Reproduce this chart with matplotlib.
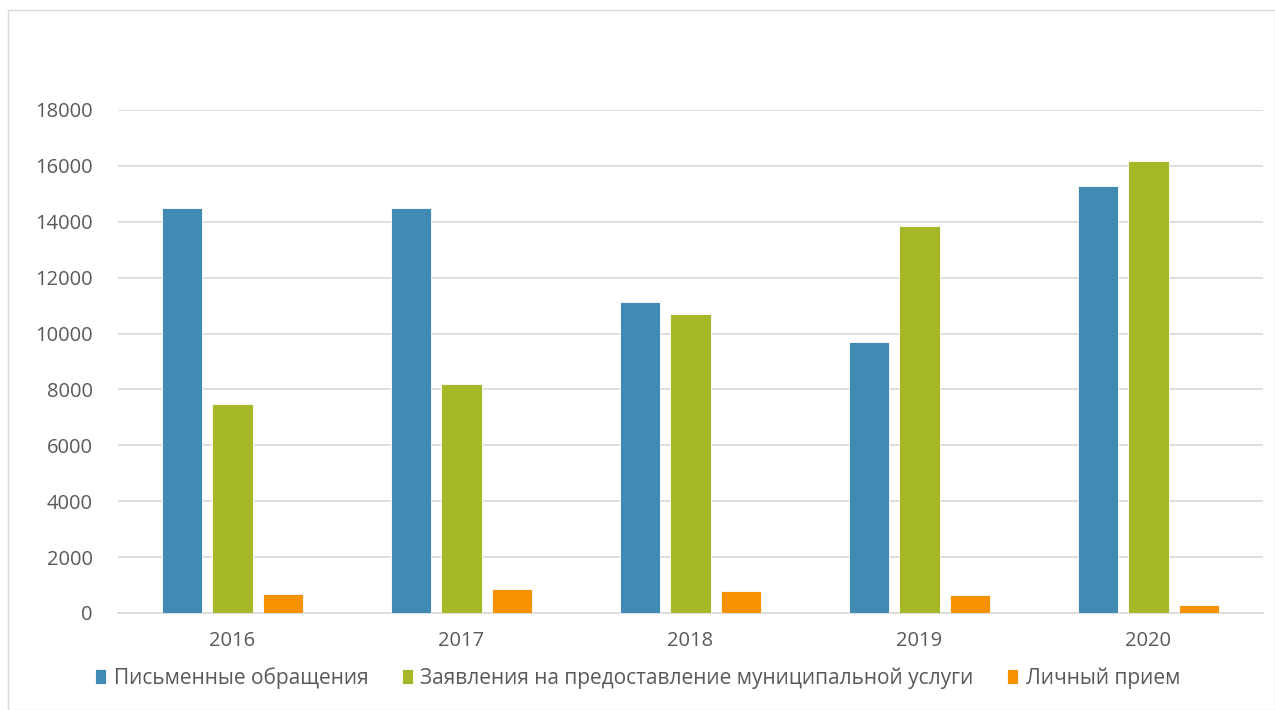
import matplotlib
matplotlib.use("Agg")
import matplotlib.pyplot as plt
import numpy as np
from matplotlib.patches import Rectangle

years = ["2016", "2017", "2018", "2019", "2020"]
pismennye = [14500, 14500, 11120, 9710, 15280]
zayavleniya = [7480, 8200, 10690, 13860, 16190]
lichny = [670, 870, 770, 650, 280]

series_names = ["Письменные обращения",
                "Заявления на предоставление муниципальной услуги",
                "Личный прием"]
colors = ["#418AB3", "#A6B727", "#F69200"]

plt.rcParams['font.family'] = ['Open Sans', 'DejaVu Sans']

fig = plt.figure(figsize=(12.75, 7.1), dpi=100)
ax = fig.add_axes([118/1275, 1 - 613/710, (1263-118)/1275, (613-110)/710])

x = np.arange(len(years))
w = 0.175
step = 0.222
for i, (vals, c, name) in enumerate(zip([pismennye, zayavleniya, lichny], colors, series_names)):
    ax.bar(x + (i - 1) * step, vals, width=w, color=c, label=name,
           edgecolor="white", linewidth=0.6, zorder=3)

ax.set_xlim(-0.5, len(years) - 0.5)
ax.set_ylim(0, 18000)
ax.set_yticks(range(0, 18001, 2000))
ax.set_xticks(x)
ax.set_xticklabels(years)
ax.yaxis.grid(True, color="#D9D9D9", linewidth=1.2, zorder=0)
for s in ["top", "right", "left"]:
    ax.spines[s].set_visible(False)
ax.spines["bottom"].set_color("#D9D9D9")
ax.spines["bottom"].set_linewidth(1.2)
ax.tick_params(axis="both", length=0, colors="#595959", labelsize=14.5)
ax.tick_params(axis="y", pad=18)
ax.tick_params(axis="x", pad=13)

fig.legend(loc="center", bbox_to_anchor=(0.5, 1 - 678/710), ncol=3, frameon=False,
           fontsize=15, labelcolor="#595959", handlelength=0.55, handleheight=0.7,
           handletextpad=0.35, columnspacing=1.6)

fig.patches.append(Rectangle((8/1275, 0), 1 - 8/1275, 1 - 10/710, transform=fig.transFigure,
                             fill=False, edgecolor="#D9D9D9", linewidth=1))

fig.savefig("out.png", dpi=100)
